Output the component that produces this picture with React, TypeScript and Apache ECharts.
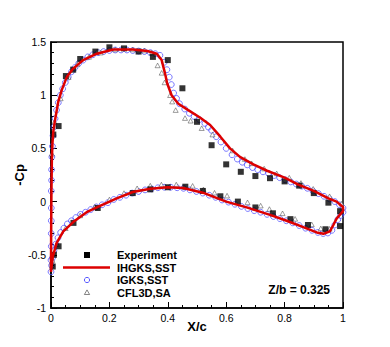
import React, { useEffect, useRef } from "react";
import * as echarts from "echarts";

// Experiment (black squares)
const expUpper: number[][] = [
  [0.008, 0.63], [0.026, 0.71], [0.051, 1.18], [0.076, 1.24], [0.10, 1.34], [0.152, 1.41],
  [0.20, 1.45], [0.25, 1.44], [0.30, 1.41], [0.349, 1.36], [0.40, 1.33], [0.45, 1.065],
  [0.50, 0.75], [0.55, 0.53], [0.60, 0.35], [0.65, 0.28], [0.70, 0.24], [0.75, 0.22],
  [0.80, 0.19], [0.85, 0.15], [0.90, 0.08], [0.95, -0.01], [0.99, -0.09],
];
const expLower: number[][] = [
  [0.006, -0.61], [0.01, -0.5], [0.026, -0.42], [0.077, -0.2], [0.16, -0.06], [0.28, 0.08],
  [0.34, 0.115], [0.40, 0.135], [0.46, 0.14], [0.52, 0.10], [0.58, 0.05], [0.64, 0.0],
  [0.70, -0.055], [0.76, -0.11], [0.82, -0.165], [0.88, -0.22], [0.94, -0.26], [0.99, -0.23],
];

// IHGKS,SST (red line)
const ihgksUpper: number[][] = [
  [0, -0.66], [0.0005, -0.3], [0.0015, 0.1], [0.003, 0.4], [0.005, 0.55], [0.008, 0.66],
  [0.014, 0.77], [0.025, 0.94], [0.037, 1.05], [0.054, 1.17], [0.076, 1.25], [0.11, 1.33],
  [0.157, 1.39], [0.213, 1.43], [0.28, 1.43], [0.33, 1.415], [0.362, 1.39], [0.379, 1.33],
  [0.39, 1.21], [0.398, 1.11], [0.413, 1.0], [0.436, 0.92], [0.47, 0.86], [0.51, 0.79],
  [0.545, 0.72], [0.58, 0.61], [0.613, 0.5], [0.647, 0.42], [0.693, 0.35], [0.74, 0.29],
  [0.8, 0.225], [0.847, 0.16], [0.9, 0.1], [0.95, 0.03], [0.978, 0.0], [1.0, -0.05],
];
const ihgksLower: number[][] = [
  [0, -0.66], [0.006, -0.52], [0.019, -0.39], [0.042, -0.28], [0.077, -0.19], [0.122, -0.1],
  [0.168, -0.04], [0.225, 0.03], [0.28, 0.09], [0.34, 0.12], [0.4, 0.134], [0.453, 0.127],
  [0.52, 0.084], [0.6, 0.0], [0.67, -0.054], [0.75, -0.125], [0.807, -0.18], [0.864, -0.24],
  [0.91, -0.29], [0.933, -0.303], [0.955, -0.28], [0.967, -0.22], [0.978, -0.16], [1.0, -0.09],
];

// IGKS,SST (blue open circles)
const igksUpper: number[][] = [
  [0.0, -0.66], [0.0, -0.55], [0.001, -0.42], [0.001, -0.3], [0.001, -0.18], [0.001, -0.06],
  [0.001, 0.1], [0.002, 0.2], [0.002, 0.3], [0.003, 0.42], [0.005, 0.52], [0.007, 0.62],
  [0.01, 0.7], [0.014, 0.78], [0.019, 0.86], [0.025, 0.93], [0.032, 1.0], [0.04, 1.06],
  [0.049, 1.12], [0.059, 1.17], [0.07, 1.22], [0.082, 1.26], [0.095, 1.3], [0.11, 1.33],
  [0.126, 1.36], [0.143, 1.38], [0.161, 1.4], [0.18, 1.41], [0.2, 1.42], [0.22, 1.425],
  [0.24, 1.425], [0.26, 1.425], [0.28, 1.42], [0.3, 1.415], [0.32, 1.41], [0.34, 1.4],
  [0.357, 1.39], [0.373, 1.375], [0.388, 1.31], [0.397, 1.24], [0.405, 1.17], [0.412, 1.1],
  [0.42, 1.02], [0.43, 0.97], [0.44, 0.92], [0.458, 0.87], [0.474, 0.83], [0.49, 0.8],
  [0.508, 0.77], [0.527, 0.735], [0.539, 0.7], [0.55, 0.67], [0.566, 0.61], [0.582, 0.56],
  [0.6, 0.5], [0.62, 0.44], [0.638, 0.4], [0.655, 0.37], [0.672, 0.345], [0.69, 0.32],
  [0.708, 0.3], [0.726, 0.28], [0.745, 0.265], [0.764, 0.245], [0.783, 0.225], [0.802, 0.205],
  [0.821, 0.185], [0.84, 0.165], [0.859, 0.145], [0.878, 0.125], [0.897, 0.1], [0.916, 0.075],
  [0.935, 0.05], [0.954, 0.025], [0.972, 0.0], [0.988, -0.03], [1.0, -0.06],
];
const igksLower: number[][] = [
  [0.002, -0.6], [0.005, -0.53], [0.01, -0.46], [0.016, -0.4], [0.024, -0.34], [0.033, -0.29],
  [0.044, -0.25], [0.056, -0.21], [0.07, -0.18], [0.085, -0.15], [0.101, -0.12], [0.118, -0.1],
  [0.136, -0.075], [0.155, -0.05], [0.175, -0.03], [0.195, -0.01], [0.215, 0.02], [0.236, 0.04],
  [0.257, 0.06], [0.278, 0.08], [0.3, 0.095], [0.322, 0.11], [0.344, 0.12], [0.366, 0.13],
  [0.388, 0.135], [0.41, 0.135], [0.432, 0.13], [0.454, 0.125], [0.476, 0.11], [0.498, 0.095],
  [0.52, 0.08], [0.542, 0.06], [0.564, 0.04], [0.586, 0.015], [0.608, -0.005], [0.63, -0.025],
  [0.652, -0.045], [0.674, -0.065], [0.696, -0.085], [0.718, -0.1], [0.74, -0.12], [0.762, -0.14],
  [0.784, -0.16], [0.806, -0.18], [0.828, -0.2], [0.85, -0.225], [0.872, -0.25], [0.894, -0.27],
  [0.914, -0.29], [0.932, -0.3], [0.948, -0.295], [0.962, -0.27], [0.972, -0.22], [0.982, -0.17],
  [0.992, -0.13], [1.0, -0.1],
];

// CFL3D,SA (open triangles)
const cflUpper: number[][] = [
  [0.003, 0.45], [0.012, 0.75], [0.033, 0.97], [0.06, 1.17], [0.09, 1.29], [0.13, 1.36],
  [0.17, 1.4], [0.22, 1.43], [0.28, 1.43], [0.32, 1.42], [0.345, 1.4], [0.365, 1.28],
  [0.379, 1.21], [0.389, 1.12], [0.408, 1.0], [0.415, 0.94], [0.427, 0.86], [0.459, 0.785],
  [0.478, 0.76], [0.516, 0.69], [0.553, 0.63], [0.622, 0.48], [0.664, 0.4], [0.687, 0.36],
  [0.73, 0.31], [0.773, 0.265], [0.816, 0.225], [0.856, 0.175], [0.898, 0.12], [0.954, 0.05],
  [0.995, -0.02],
];
const cflLower: number[][] = [
  [0.005, -0.55], [0.02, -0.4], [0.05, -0.25], [0.1, -0.13], [0.15, -0.05], [0.2, 0.02],
  [0.25, 0.08], [0.295, 0.125], [0.34, 0.15], [0.378, 0.16], [0.429, 0.16], [0.485, 0.148],
  [0.522, 0.115], [0.56, 0.083], [0.603, 0.056], [0.673, -0.007], [0.718, -0.038], [0.748, -0.07],
  [0.793, -0.11], [0.836, -0.162], [0.893, -0.214], [0.924, -0.252], [0.954, -0.256],
];

const xTicks = { min: 0, max: 1, interval: 0.2 };
const yTicks = { min: -1, max: 1.5, interval: 0.5 };
const legendNames = ["Experiment", "IHGKS,SST", "IGKS,SST", "CFL3D,SA"];
const annotation = "Z/b = 0.325";

const RED = "#dd0000";
const BLUE = "#4646ff";
const TRI = "#333";

export default function App() {
  const ref = useRef<HTMLDivElement>(null);
  useEffect(() => {
    if (!ref.current) return;
    const chart = echarts.init(ref.current, null, { renderer: "svg" });
    const font = "'Liberation Sans', Arial, Helvetica, sans-serif";
    const axisCommon = {
      axisLine: { show: true, onZero: false, lineStyle: { color: "#000", width: 1.5 } },
      axisTick: { show: true, inside: true, length: 6, lineStyle: { color: "#000", width: 1 } },
      minorTick: { show: true, length: 3, lineStyle: { color: "#000", width: 1 } },
      splitLine: { show: false },
      nameMoveOverlap: false,
      nameTextStyle: { fontFamily: font, fontWeight: "bold", fontSize: 13, color: "#000" },
    };

    // legend drawn with graphic elements
    const lx = 87; // symbol center x
    const tx = 117; // text left x
    const rows = [255, 267.5, 280, 292.5];
    const legendText = (i: number) => ({
      type: "text",
      x: tx,
      y: rows[i],
      style: {
        text: legendNames[i],
        fill: "#000",
        font: `bold 11px ${font}`,
        verticalAlign: "middle",
        align: "left",
      },
    });
    const graphic = [
      { type: "rect", shape: { x: lx - 3, y: rows[0] - 3, width: 6, height: 6 }, style: { fill: "#000" } },
      legendText(0),
      { type: "line", shape: { x1: 63, y1: rows[1], x2: 110, y2: rows[1] }, style: { stroke: RED, lineWidth: 2.5 } },
      legendText(1),
      { type: "circle", shape: { cx: lx, cy: rows[2], r: 2.6 }, style: { fill: "#fff", stroke: BLUE, lineWidth: 0.9 } },
      legendText(2),
      {
        type: "polygon",
        shape: { points: [[lx, rows[3] - 2.6], [lx + 2.6, rows[3] + 2], [lx - 2.6, rows[3] + 2]] },
        style: { fill: "#fff", stroke: TRI, lineWidth: 0.6 },
      },
      legendText(3),
    ];

    chart.setOption({
      animation: false,
      backgroundColor: "#fff",
      textStyle: { fontFamily: font },
      grid: { left: 51, right: 47, top: 42, bottom: 39, show: true, borderColor: "#000", borderWidth: 1.5 },
      title: {
        text: annotation,
        right: 55,
        top: 279,
        textStyle: { fontFamily: font, fontWeight: "bold", fontSize: 12, color: "#000" },
      },
      graphic,
      xAxis: {
        type: "value",
        ...xTicks,
        ...axisCommon,
        minorTick: { ...axisCommon.minorTick, splitNumber: 4 },
        name: "X/c",
        nameLocation: "middle",
        nameGap: 12,
        axisLabel: { margin: 4, fontSize: 10.5, color: "#000", fontFamily: font },
      },
      yAxis: {
        type: "value",
        ...yTicks,
        ...axisCommon,
        minorTick: { ...axisCommon.minorTick, splitNumber: 5 },
        name: "-Cp",
        nameLocation: "middle",
        nameGap: 25,
        axisLabel: { margin: 5, fontSize: 10.5, color: "#000", fontFamily: font },
      },
      series: [
        {
          name: "IHGKS,SST",
          type: "line",
          symbol: "none",
          clip: false,
          lineStyle: { color: RED, width: 2.5 },
          itemStyle: { color: RED },
          data: [...ihgksUpper, ...[...ihgksLower].reverse()],
        },
        {
          name: "IGKS,SST",
          type: "scatter",
          symbol: "circle",
          symbolSize: 5.8,
          clip: false,
          itemStyle: { color: "rgba(255,255,255,0)", borderColor: BLUE, borderWidth: 0.9 },
          data: [...igksUpper, ...igksLower],
        },
        {
          name: "CFL3D,SA",
          type: "scatter",
          symbol: "triangle",
          symbolSize: [5, 4.6],
          clip: false,
          itemStyle: { color: "#fff", borderColor: TRI, borderWidth: 0.6 },
          data: [...cflUpper, ...cflLower],
        },
        {
          name: "Experiment",
          type: "scatter",
          symbol: "rect",
          symbolSize: 6,
          clip: false,
          itemStyle: { color: "#000" },
          data: [...expUpper, ...expLower],
        },
      ],
    });
    return () => chart.dispose();
  }, []);
  return <div ref={ref} style={{ width: 390, height: 347, position: "absolute", left: 0, top: 0 }} />;
}
